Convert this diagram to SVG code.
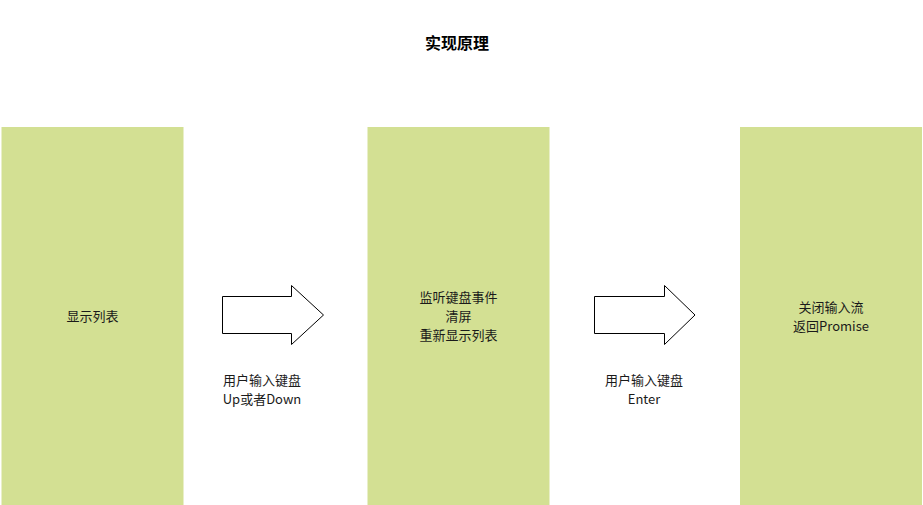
<svg xmlns="http://www.w3.org/2000/svg" width="923" height="505" viewBox="0 0 923 505">
<style>
.box{fill:#d3e093;stroke:none}
.arrow{fill:#ffffff;stroke:#000000;stroke-width:1}
text{font-family:"Noto Sans CJK SC","Microsoft YaHei",sans-serif;font-size:13px;fill:#1a1a1a;text-anchor:middle}
.title{font-size:16px;font-weight:bold;fill:#000000}
</style>
<rect width="923" height="505" fill="#ffffff"/>
<g id="title"><text class="title" x="457" y="49">实现原理</text></g>
<g id="node-list">
<rect class="box" x="1.5" y="127" width="182" height="380"/>
<text x="92.5" y="321">显示列表</text>
</g>
<g id="node-listen">
<rect class="box" x="367.5" y="127" width="182" height="380"/>
<text x="458.5" y="302">监听键盘事件</text>
<text x="458.5" y="321">清屏</text>
<text x="458.5" y="340">重新显示列表</text>
</g>
<g id="node-close">
<rect class="box" x="740" y="127" width="182" height="380"/>
<text x="831" y="312">关闭输入流</text>
<text x="831" y="331">返回Promise</text>
</g>
<g id="connectors">
<g id="arrow1">
<path class="arrow" d="M222.5,296.5 H291.5 V285.5 L323.5,315 L291.5,344.5 V333.5 H222.5 Z"/>
<text x="262" y="385">用户输入键盘</text>
<text x="262" y="404">Up或者Down</text>
</g>
<g id="arrow2">
<path class="arrow" d="M594.5,296.5 H664.5 V285.5 L695,315 L664.5,344.5 V333.5 H594.5 Z"/>
<text x="644" y="385">用户输入键盘</text>
<text x="644" y="404">Enter</text>
</g>
</g>
</svg>
